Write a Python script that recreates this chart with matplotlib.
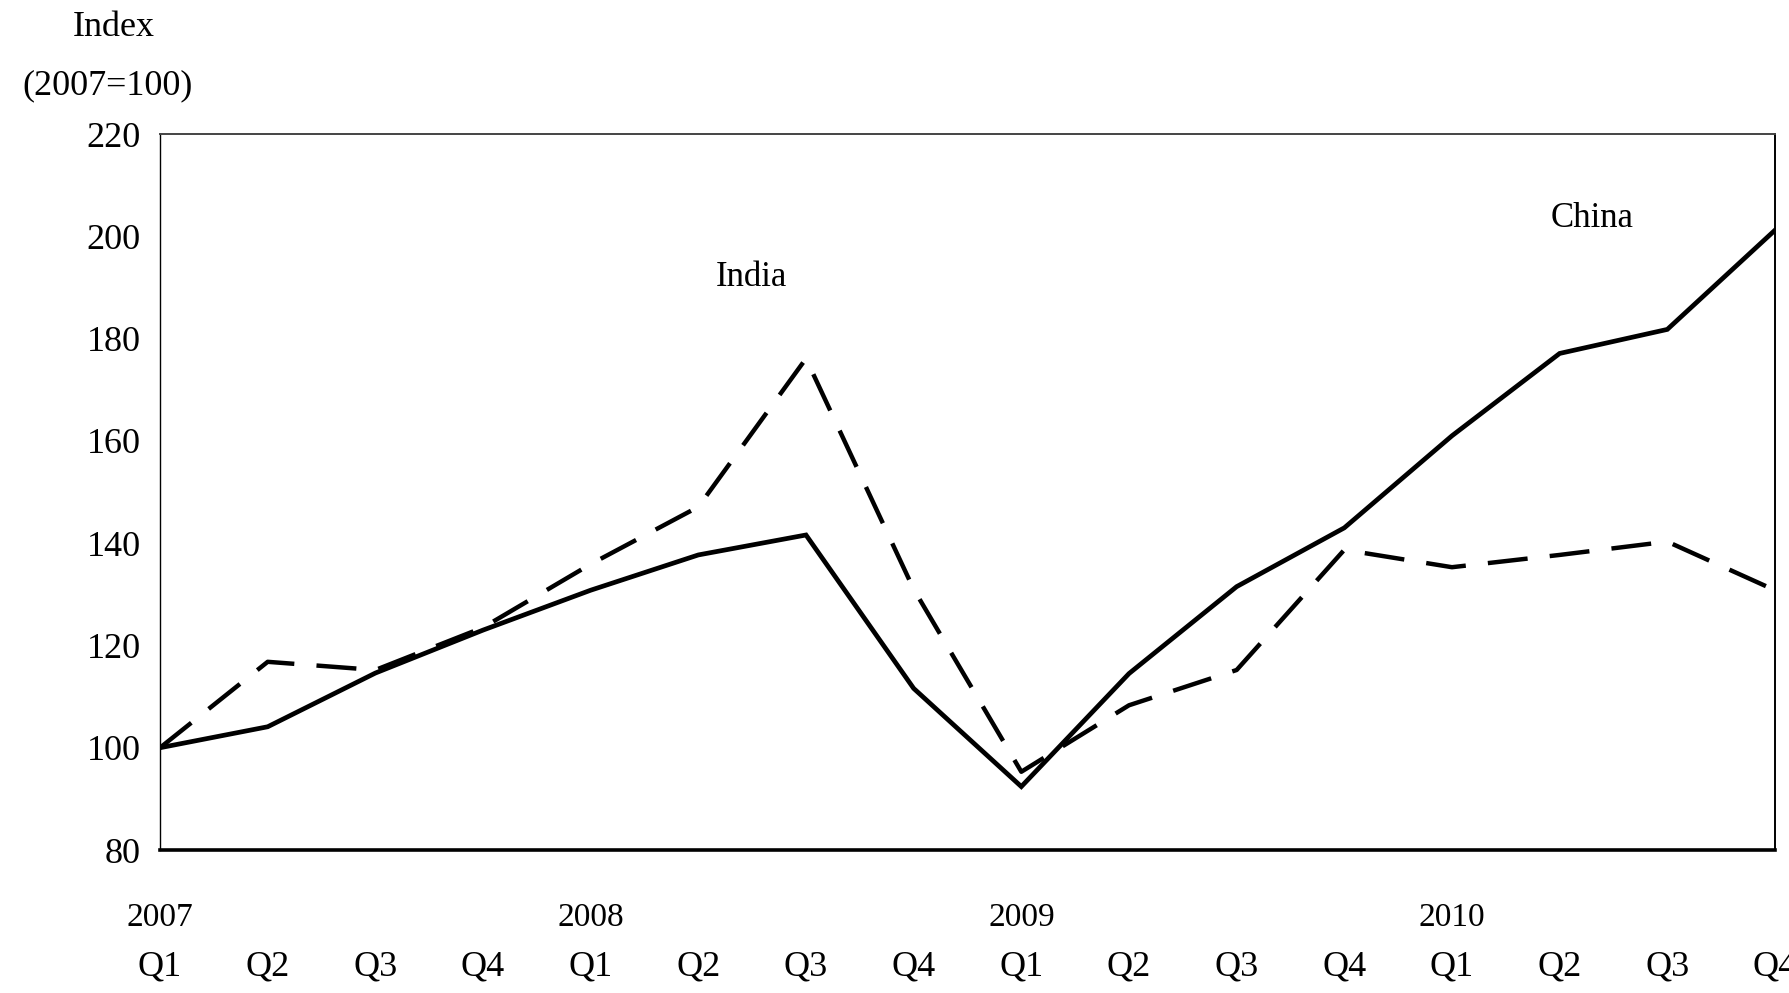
import matplotlib.pyplot as plt

plt.rcParams['font.family'] = ['Liberation Serif', 'DejaVu Serif']

# quarterly index, 2007 Q1 .. 2010 Q4 (2007=100)
quarters = ["Q1", "Q2", "Q3", "Q4"] * 4
years = ["2007", "2008", "2009", "2010"]
china = [100, 104.1, 114.6, 123.0, 130.8, 137.7, 141.6, 111.6,
         92.4, 114.5, 131.5, 143.0, 161.0, 177.1, 181.8, 201.2]
india = [100, 116.8, 115.2, 123.5, 135.9, 147.1, 176.1, 131.0,
         95.3, 108.3, 115.2, 138.7, 135.3, 137.7, 140.3, 130.8]
y_ticks = [80, 100, 120, 140, 160, 180, 200, 220]

fs = 26
x = list(range(len(quarters)))

fig = plt.figure(figsize=(17.9, 9.93), dpi=100)
ax = fig.add_axes([0.0894, 0.144, 0.9022, 0.721])

ax.plot(x, china, color="black", linewidth=3.4, solid_joinstyle="miter")
ax.plot(x, india, color="black", linewidth=3.2, dashes=(9, 5))

ax.set_xlim(0, 15)
ax.set_ylim(80, 220)
ax.set_yticks(y_ticks)
ax.set_yticklabels([str(v) for v in y_ticks], fontsize=fs)
ax.set_xticks(x)
ax.set_xticklabels(quarters, fontsize=fs)
ax.tick_params(axis="both", length=0)
ax.tick_params(axis="y", pad=14)
ax.tick_params(axis="x", pad=72)

# year labels above the quarter labels
for i, yr in enumerate(years):
    ax.text(i * 4, -0.094, yr, transform=ax.get_xaxis_transform(),
            ha="center", va="center", fontsize=fs - 2)

ax.spines["left"].set_linewidth(1.0)
ax.spines["bottom"].set_linewidth(2.6)
ax.spines["top"].set_linewidth(1.4)
ax.spines["top"].set_color("#444444")
ax.spines["right"].set_linewidth(1.4)

ax.text(5.49, 192, "India", ha="center", va="center", fontsize=fs - 1)
ax.text(13.3, 203.4, "China", ha="center", va="center", fontsize=fs - 1)

fig.text(114 / 1790, 1 - 27 / 993, "Index", ha="center", va="center", fontsize=fs)
fig.text(108 / 1790, 1 - 86 / 993, "(2007=100)", ha="center", va="center", fontsize=fs)

plt.savefig("out.png", dpi=100)
